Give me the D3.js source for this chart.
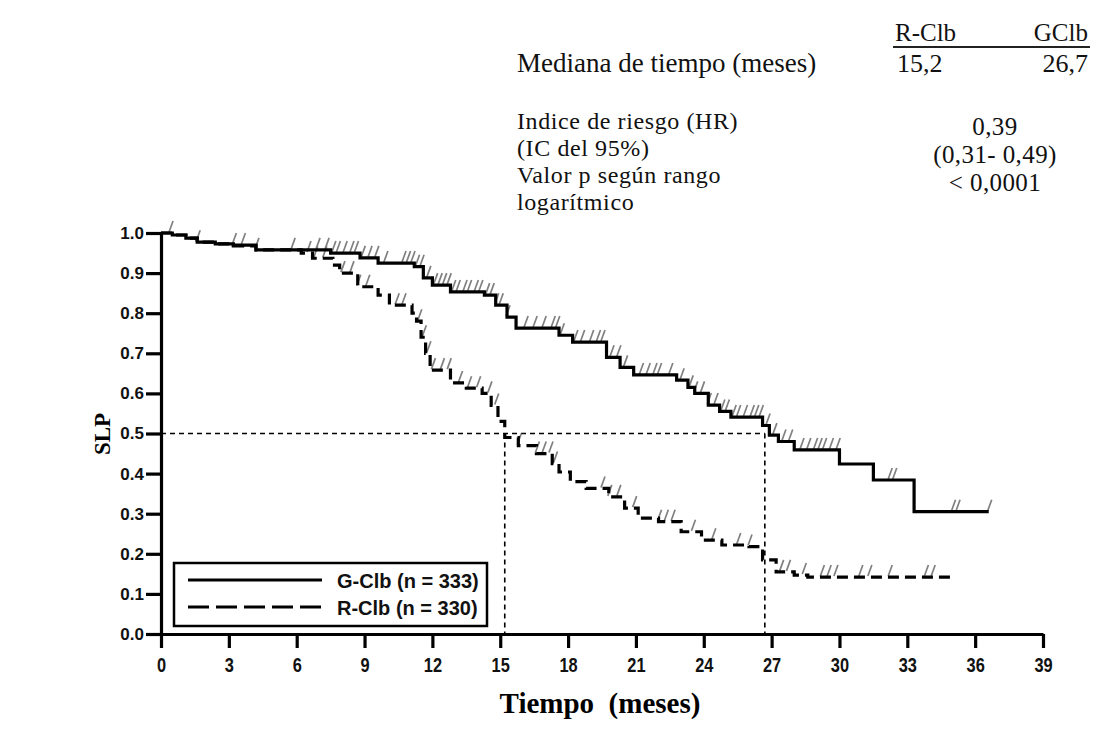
<!DOCTYPE html>
<html><head><meta charset="utf-8">
<script src="https://cdn.jsdelivr.net/npm/d3@7"></script>
<style>body{margin:0;background:#fff}</style>
</head><body>
<svg id="c" width="1101" height="749"></svg>
<script>
// ---- data ----
const xTicks = [0,3,6,9,12,15,18,21,24,27,30,33,36,39];
const yTicks = [0.0,0.1,0.2,0.3,0.4,0.5,0.6,0.7,0.8,0.9,1.0];
const gTimes = [0,0.5,1.1,1.6,2.4,3.2,4.2,7.5,8.8,9.6,11.2,11.6,12.0,12.8,14.3,14.8,15.3,15.7,17.6,18.2,19.7,20.3,20.9,22.8,23.3,23.6,24.2,24.7,25.2,26.6,26.9,27.3,28.0,30.0,31.5,33.3];
const gSurv  = [1.0,0.995,0.987,0.977,0.973,0.97,0.958,0.95,0.938,0.925,0.916,0.888,0.87,0.853,0.845,0.82,0.79,0.763,0.745,0.728,0.69,0.665,0.646,0.633,0.615,0.60,0.571,0.555,0.541,0.52,0.496,0.48,0.459,0.424,0.384,0.305];
const gEnd = 36.6;
const rTimes = [0,0.5,1.1,1.6,2.4,3.2,4.2,6.2,6.7,7.6,7.9,8.7,9.6,10.1,11.1,11.3,11.5,11.7,11.9,12.8,13.5,14.2,14.6,14.9,15.2,15.8,16.6,17.3,17.6,18.1,18.8,19.8,20.5,21.1,22.0,23.0,23.9,24.8,26.0,26.6,27.2,28.0,28.6];
const rSurv  = [1.0,0.995,0.987,0.977,0.973,0.968,0.958,0.95,0.937,0.92,0.90,0.866,0.845,0.82,0.80,0.78,0.74,0.70,0.658,0.626,0.613,0.60,0.57,0.53,0.49,0.47,0.45,0.425,0.404,0.38,0.363,0.342,0.314,0.289,0.28,0.255,0.234,0.222,0.218,0.185,0.155,0.147,0.142];
const rEnd = 34.9;
const gCens = [0.4,1.6,3.2,3.6,4.2,5.8,6.9,7.3,7.6,7.8,8.1,8.4,8.6,8.9,9.2,9.5,9.9,10.7,10.9,11.1,11.3,11.5,11.8,12.1,12.3,12.5,12.7,12.9,13.1,13.4,13.6,13.9,14.1,14.4,14.6,14.8,15.0,15.3,16.1,16.5,16.9,17.3,17.5,17.7,18.3,18.6,19.0,19.3,19.5,19.9,20.2,20.5,21.2,21.5,21.8,22.0,22.5,23.0,23.4,23.6,23.9,24.2,24.5,24.8,25.0,25.3,25.5,25.8,26.1,26.3,26.5,26.8,27.1,27.5,27.8,28.3,28.6,28.9,29.1,29.3,29.6,29.9,32.2,32.4,35.0,35.2,36.6];
const rCens = [6.5,6.8,7.2,8.0,8.4,8.7,9.1,10.4,10.7,11.4,11.6,11.8,12.0,12.4,12.7,13.2,13.6,14.0,14.5,14.8,15.8,16.6,16.9,17.2,17.4,19.5,19.8,20.2,20.9,22.0,22.3,22.6,23.5,24.4,25.5,26.0,27.4,27.7,28.4,29.2,29.5,29.8,30.9,31.3,32.2,33.8,34.1];
const medians = [15.2, 26.7];
const legendLabels = ["G-Clb (n = 333)", "R-Clb (n = 330)"];
const statLeft = ["Mediana de tiempo (meses)", "Indice de riesgo (HR)", "(IC del 95%)", "Valor p según rango", "logarítmico"];
const statHead = ["R-Clb", "GClb"];
const statMed = ["15,2", "26,7"];
const statRight = ["0,39", "(0,31- 0,49)", "< 0,0001"];

// ---- layout ----
const svg = d3.select("#c");
const x = d3.scaleLinear().domain([0,39]).range([161,1043]);
const y = d3.scaleLinear().domain([0,1]).range([634,233]);
const serif = "'Liberation Serif','Times New Roman',serif";
const sans = "'Liberation Sans',Arial,sans-serif";

function stepPts(times, surv, end){
  const pts = [];
  for(let i=0;i<times.length;i++){
    if(i>0) pts.push([times[i], surv[i-1]]);
    pts.push([times[i], surv[i]]);
  }
  pts.push([end, surv[surv.length-1]]);
  return pts;
}
function survAt(times, surv, t){
  let s = surv[0];
  for(let i=0;i<times.length;i++){ if(times[i]<=t) s = surv[i]; }
  return s;
}
const line = d3.line().x(d=>x(d[0])).y(d=>y(d[1]));

// median reference lines
svg.append("path").attr("d", line([[0,0.5],[medians[1],0.5]]))
  .attr("fill","none").attr("stroke","#000").attr("stroke-width",1.6).attr("stroke-dasharray","5,4");
medians.forEach(m=>{
  svg.append("path").attr("d", line([[m,0.5],[m,0]]))
    .attr("fill","none").attr("stroke","#000").attr("stroke-width",1.6).attr("stroke-dasharray","5,4");
});

// censor marks
function cens(times, surv, list){
  svg.append("g").selectAll("line").data(list).join("line")
    .attr("x1", d=>x(d)-1).attr("y1", d=>y(survAt(times,surv,d))-1)
    .attr("x2", d=>x(d)+3).attr("y2", d=>y(survAt(times,surv,d))-12)
    .attr("stroke","#808080").attr("stroke-width",1.7);
}
cens(gTimes,gSurv,gCens);
cens(rTimes,rSurv,rCens);

// curves
svg.append("path").attr("d", line(stepPts(gTimes,gSurv,gEnd)))
  .attr("fill","none").attr("stroke","#000").attr("stroke-width",3.2);
svg.append("path").attr("d", line(stepPts(rTimes,rSurv,rEnd)))
  .attr("fill","none").attr("stroke","#000").attr("stroke-width",3.2).attr("stroke-dasharray","11,6");

// axes
const xAxis = svg.append("g").attr("transform","translate(0,634)")
  .call(d3.axisBottom(x).tickValues(xTicks).tickFormat(d3.format("d")).tickSize(14).tickSizeOuter(0));
xAxis.select(".domain").attr("stroke-width",3.2);
xAxis.selectAll(".tick line").attr("stroke-width",3.2);
xAxis.selectAll(".tick text").attr("font-family",sans).attr("font-weight","bold").attr("font-size",20)
  .attr("fill","#111").attr("y",0).attr("dy",0).attr("transform","translate(0,38) scale(0.82,1)");

const yAxis = svg.append("g").attr("transform","translate(161,0)")
  .call(d3.axisLeft(y).tickValues(yTicks).tickFormat(d3.format(".1f")).tickSize(15).tickSizeOuter(0));
yAxis.select(".domain").attr("stroke-width",3.2);
yAxis.selectAll(".tick line").attr("stroke-width",3.2);
yAxis.selectAll(".tick text").attr("font-family",sans).attr("font-weight","bold").attr("font-size",17).attr("fill","#111").attr("x",-17);

// axis titles
svg.append("text").attr("x",600).attr("y",713).attr("text-anchor","middle")
  .attr("font-family",serif).attr("font-weight","bold").attr("font-size",29).style("white-space","pre").text("Tiempo  (meses)");
svg.append("text").attr("transform","translate(110,434) rotate(-90)").attr("text-anchor","middle")
  .attr("font-family",serif).attr("font-weight","bold").attr("font-size",23).text("SLP");

// legend
const lg = svg.append("g");
lg.append("rect").attr("x",174).attr("y",563).attr("width",313).attr("height",63)
  .attr("fill","#fff").attr("stroke","#000").attr("stroke-width",2.5);
[0,1].forEach(i=>{
  const yy = 580 + i*27;
  lg.append("line").attr("x1",188).attr("x2",322).attr("y1",yy).attr("y2",yy)
    .attr("stroke","#000").attr("stroke-width",3.2).attr("stroke-dasharray", i? "21,7":null);
  lg.append("text").attr("x",337).attr("y",yy+8).attr("font-family",sans).attr("font-weight","bold")
    .attr("font-size",20).attr("fill","#111").text(legendLabels[i]);
});

// stats block
const st = svg.append("g").attr("font-family",serif).attr("fill","#111");
const leftY = [72,129,156,183,210];
statLeft.forEach((t,i)=> st.append("text").attr("x",517).attr("y",leftY[i])
  .attr("font-size", i===0 ? 27 : 24).attr("letter-spacing", i===0 ? 0 : 0.6).text(t));
st.append("text").attr("x",895).attr("y",41).attr("font-size",25).text(statHead[0]);
st.append("text").attr("x",1088).attr("y",41).attr("font-size",25).attr("text-anchor","end").text(statHead[1]);
st.append("line").attr("x1",893).attr("x2",1090).attr("y1",47).attr("y2",47).attr("stroke","#222").attr("stroke-width",1.8);
st.append("text").attr("x",897).attr("y",72).attr("font-size",26).text(statMed[0]);
st.append("text").attr("x",1088).attr("y",72).attr("font-size",26).attr("text-anchor","end").text(statMed[1]);
const rightY = [135,163,191];
statRight.forEach((t,i)=> st.append("text").attr("x",995).attr("y",rightY[i]).attr("font-size",25)
  .attr("letter-spacing",0.4).attr("text-anchor","middle").text(t));
</script>
</body></html>
